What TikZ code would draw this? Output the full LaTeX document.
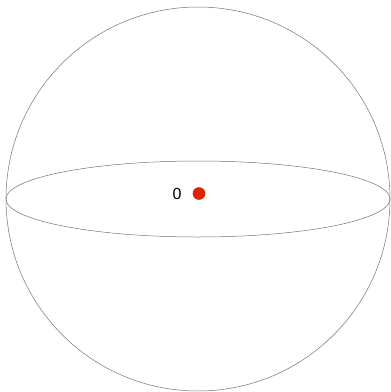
\documentclass[tikz,border=0pt]{standalone}
\usepackage{fontspec}
\setmainfont{Liberation Sans}
\definecolor{dotred}{RGB}{221,34,0}
\begin{document}
\begin{tikzpicture}[x=1pt,y=-1pt,
  outline/.style={draw=black!55,line width=0.5pt},
  pointdot/.style={circle,fill=dotred,inner sep=0pt,minimum size=12.6pt},
  lbl/.style={font=\fontsize{16}{16}\selectfont,inner sep=0pt}]
\useasboundingbox (0,0) rectangle (391,392);
\coordinate (c) at (198,199);
\draw[outline] (c) circle[radius=192];
\draw[outline] (c) ellipse[x radius=192,y radius=38];
\node[pointdot] (p0) at (199,193.5) {};
\node[lbl] (l0) at (177,193.5) {0};
\end{tikzpicture}
\end{document}
